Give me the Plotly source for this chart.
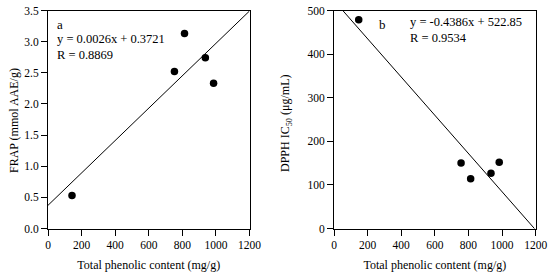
import plotly.graph_objects as go

# Data
tpc_a = [143, 753, 813, 937, 986]
frap = [0.53, 2.52, 3.13, 2.74, 2.33]
tpc_b = [147, 756, 813, 934, 983]
dpph = [479, 150, 114, 127, 152]
slope_a, icpt_a = 0.0026, 0.3721
slope_b, icpt_b = -0.4386, 522.85
x_ticks = [0, 200, 400, 600, 800, 1000, 1200]
ya_ticks = [0.0, 0.5, 1.0, 1.5, 2.0, 2.5, 3.0, 3.5]
yb_ticks = [0, 100, 200, 300, 400, 500]

FONT = "Liberation Serif"
W, H = 550, 274


def px(p):
    return p / W


def py(p):
    return 1 - p / H


# regression line endpoints clipped to axes ranges
xa0, xa1 = 0, min(1200, (3.5 - icpt_a) / slope_a)
line_a_x = [xa0, xa1]
line_a_y = [slope_a * v + icpt_a for v in line_a_x]
xb0, xb1 = (500 - icpt_b) / slope_b, 1200
line_b_x = [xb0, xb1]
line_b_y = [slope_b * v + icpt_b for v in line_b_x]

fig = go.Figure()
fig.add_trace(go.Scatter(x=line_a_x, y=line_a_y, mode="lines",
                         line=dict(color="black", width=1), xaxis="x", yaxis="y"))
fig.add_trace(go.Scatter(x=tpc_a, y=frap, mode="markers",
                         marker=dict(color="black", size=7.5), xaxis="x", yaxis="y"))
fig.add_trace(go.Scatter(x=line_b_x, y=line_b_y, mode="lines",
                         line=dict(color="black", width=1), xaxis="x2", yaxis="y2"))
fig.add_trace(go.Scatter(x=tpc_b, y=dpph, mode="markers",
                         marker=dict(color="black", size=7.5), xaxis="x2", yaxis="y2"))

axis_common = dict(showline=True, linecolor="black", linewidth=1, mirror=True,
                   ticks="outside", ticklen=6, tickcolor="black", showgrid=False,
                   zeroline=False, automargin=False,
                   tickfont=dict(family=FONT, size=11.5, color="black"))

ydom = [py(228.5), py(10.5)]
tfont = dict(family=FONT, size=12, color="black")
fig.update_layout(
    width=W, height=H,
    margin=dict(l=0, r=0, t=0, b=0),
    paper_bgcolor="white", plot_bgcolor="white",
    showlegend=False,
    font=dict(family=FONT, size=11, color="black"),
    xaxis=dict(domain=[px(48), px(249.5)], range=[0, 1200], tickvals=x_ticks,
               title=dict(text="Total phenolic content (mg/g)", font=tfont, standoff=10),
               anchor="y", **axis_common),
    yaxis=dict(domain=ydom, range=[0, 3.5], tickvals=ya_ticks,
               ticktext=[f"{v:.1f}" for v in ya_ticks],
               anchor="x", **axis_common),
    xaxis2=dict(domain=[px(334), px(535.7)], range=[0, 1200], tickvals=x_ticks,
                title=dict(text="Total phenolic content (mg/g)", font=tfont, standoff=10),
                anchor="y2", **axis_common),
    yaxis2=dict(domain=ydom, range=[0, 500], tickvals=yb_ticks,
                anchor="x2", **axis_common),
    annotations=[
        dict(text="FRAP (mmol AAE/g)", x=px(14), y=py(121), xref="paper", yref="paper",
             xanchor="center", yanchor="middle", textangle=-90, showarrow=False, font=tfont),
        dict(text="DPPH IC<sub>50</sub> (μg/mL)", x=px(286), y=py(123), xref="paper", yref="paper",
             xanchor="center", yanchor="middle", textangle=-90, showarrow=False, font=tfont),
        dict(text="a", x=px(55), y=py(24), xref="paper", yref="paper",
             xanchor="left", yanchor="middle", showarrow=False, font=dict(family=FONT, size=13)),
        dict(text="y = 0.0026x + 0.3721<br>R = 0.8869", x=px(55), y=py(47),
             xref="paper", yref="paper", xanchor="left", yanchor="middle", align="left",
             showarrow=False, font=dict(family=FONT, size=12.5)),
        dict(text="b", x=px(377), y=py(24), xref="paper", yref="paper",
             xanchor="left", yanchor="middle", showarrow=False, font=dict(family=FONT, size=13)),
        dict(text="y = -0.4386x + 522.85<br>R = 0.9534", x=px(408), y=py(30),
             xref="paper", yref="paper", xanchor="left", yanchor="middle", align="left",
             showarrow=False, font=dict(family=FONT, size=12.5)),
    ],
)

fig.write_html("out.html", config={"displayModeBar": False},
               post_script="document.body.style.margin='0';document.body.style.overflow='hidden';")
